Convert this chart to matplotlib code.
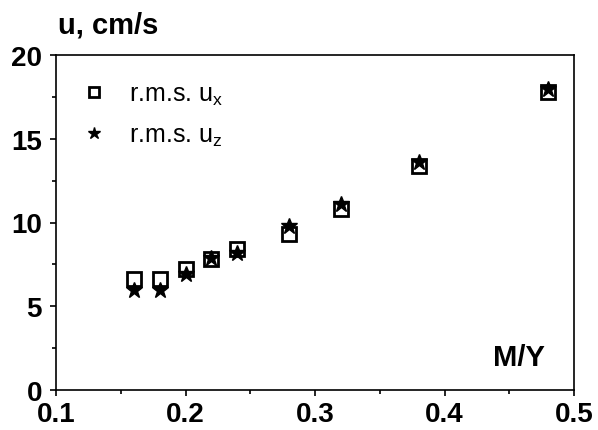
import matplotlib.pyplot as plt
from matplotlib.ticker import MultipleLocator

plt.rcParams['font.family'] = ['Liberation Sans', 'DejaVu Sans']
plt.rcParams['mathtext.fontset'] = 'custom'
plt.rcParams['mathtext.rm'] = 'Liberation Sans'

# M/Y values and r.m.s. velocities (cm/s)
my = [0.16, 0.18, 0.20, 0.22, 0.24, 0.28, 0.32, 0.38, 0.48]
rms_ux = [6.6, 6.6, 7.2, 7.8, 8.4, 9.3, 10.8, 13.4, 17.8]
rms_uz = [6.0, 6.0, 6.9, 7.9, 8.2, 9.8, 11.1, 13.6, 18.0]

fig = plt.figure(figsize=(5.98, 4.31), dpi=100)
ax = fig.add_axes([56/598, 40/431, 518/598, 335/431])

ax.plot(my, rms_ux, 's', ms=10, mfc='white', mec='black', mew=2,
        label=r'r.m.s. u$_\mathregular{x}$', zorder=3)
ax.plot(my, rms_uz, '*', ms=12, color='black',
        label=r'r.m.s. u$_\mathregular{z}$', zorder=4)

ax.set_xlim(0.1, 0.5)
ax.set_ylim(0, 20)
ax.xaxis.set_major_locator(MultipleLocator(0.1))
ax.xaxis.set_minor_locator(MultipleLocator(0.05))
ax.yaxis.set_major_locator(MultipleLocator(5))
ax.yaxis.set_minor_locator(MultipleLocator(2.5))
ax.tick_params(which='major', direction='out', length=4, width=1.2,
               labelsize=20)
ax.tick_params(axis='x', which='major', pad=4)
ax.tick_params(axis='y', which='major', pad=6)
ax.tick_params(which='minor', direction='out', length=3, width=1.2)
for lab in ax.get_xticklabels() + ax.get_yticklabels():
    lab.set_fontweight('bold')
for sp in ax.spines.values():
    sp.set_linewidth(1.2)

fig.text(58/598, 1 - 25/431, 'u, cm/s', fontsize=21, fontweight='bold',
         ha='left', va='center')
ax.text(0.944, 0.0985, 'M/Y', transform=ax.transAxes, fontsize=21,
        fontweight='bold', ha='right', va='center')

ax.legend(loc='upper left', bbox_to_anchor=(0.05, 0.919), frameon=False,
          fontsize=18, handletextpad=0.87, labelspacing=0.6,
          handlelength=1.0, borderpad=0, borderaxespad=0, markerscale=0.75)

fig.savefig('out.png', dpi=100)
